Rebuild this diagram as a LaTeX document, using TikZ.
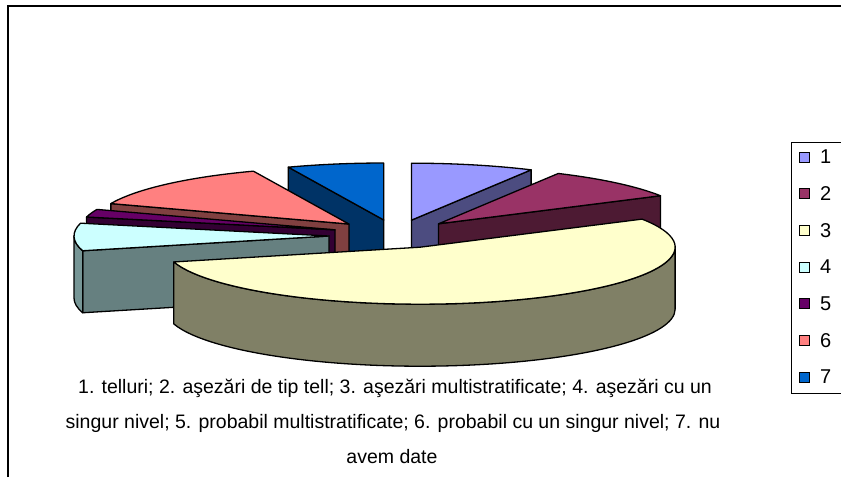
\documentclass[tikz,border=0pt]{standalone}
\usepackage{fontspec}
\setmainfont{Liberation Sans}
\usetikzlibrary{calc}
\definecolor{t1}{HTML}{9999FF}\definecolor{s1}{HTML}{4C4C80}
\definecolor{t2}{HTML}{993366}\definecolor{s2}{HTML}{4D1A33}
\definecolor{t3}{HTML}{FFFFCC}\definecolor{s3}{HTML}{808066}
\definecolor{t4}{HTML}{CCFFFF}\definecolor{s4}{HTML}{668080}\definecolor{c4}{HTML}{779696}
\definecolor{t5}{HTML}{660066}\definecolor{s5}{HTML}{330033}
\definecolor{t6}{HTML}{FF8080}\definecolor{s6}{HTML}{804040}
\definecolor{t7}{HTML}{0066CC}\definecolor{s7}{HTML}{003366}
\newcommand\topface[4]{\filldraw[edge,fill=#4] (#1) -- ($(#1)+(#2:255 and 57)$) arc[start angle=#2,end angle=#3,x radius=255,y radius=57] -- cycle;}
\newcommand\radface[3]{\filldraw[edge,fill=#3] (#1) -- ($(#1)+(#2:255 and 57)$) -- ++(0,-62) -- ($(#1)+(0,-62)$) -- cycle;}
\newcommand\curvface[4]{\filldraw[edge,fill=#4] ($(#1)+(#2:255 and 57)$) arc[start angle=#2,end angle=#3,x radius=255,y radius=57] -- ++(0,-62) arc[start angle=#3,end angle=#2,x radius=255,y radius=57] -- cycle;}
\begin{document}
\begin{tikzpicture}[x=1pt,y=1pt,
  edge/.style={draw=black,line width=1.3pt,line join=round},
  captext/.style={font=\fontsize{19.5}{22}\selectfont,anchor=base,inner sep=0pt},
  legtext/.style={font=\fontsize{20}{22}\selectfont,anchor=west,inner sep=0pt},
  legsq/.style={draw=black,line width=1pt,minimum size=10pt,inner sep=0pt}]
\useasboundingbox (0,0) rectangle (841,-477);
\coordinate (O) at (396,-234);
\coordinate (C1) at ($(O)+(76:63.75 and 14.25)$);
\coordinate (C2) at ($(O)+(45.75:61 and 14.25)$);
\coordinate (C3) at ($(O)+(-67.75:63.75 and 14.25)$);
\coordinate (C4) at (329,-236);
\coordinate (C5) at ($(O)+(163:63.75 and 14.25)$);
\coordinate (C6) at ($(O)+(135.5:66 and 14.25)$);
\coordinate (C7) at ($(O)+(101:63.75 and 14.25)$);
% slice 7
\radface{C7}{112}{s7}
\topface{C7}{112}{90}{t7}
% slice 1
\radface{C1}{62}{s1}
\topface{C1}{90}{62}{t1}
% slice 6
\radface{C6}{159}{s6}
\topface{C6}{159}{112}{t6}
% slice 2
\radface{C2}{29.5}{s2}
\topface{C2}{62}{29.5}{t2}
% slice 5
\radface{C5}{167}{s5}
\topface{C5}{167}{159}{t5}
% slice 4
\radface{C4}{195}{s4}
\curvface{C4}{180}{195}{c4}
\topface{C4}{195}{167}{t4}
% slice 3
\curvface{C3}{0}{-165}{s3}
\topface{C3}{29.5}{-165}{t3}
% frame
\draw[line width=2pt] (8,-477) -- (8,-6) -- (841,-6);
% legend
\draw[line width=1pt] (841,-142) -- (791,-142) -- (791,-393) -- (841,-393);
\foreach \i/\c in {1/t1,2/t2,3/t3,4/t4,5/t5,6/t6,7/t7}{
  \node[legsq,fill=\c] (sq\i) at (804,{-157-36.67*(\i-1)}) {};
  \node[legtext] (lt\i) at (820,{-157-36.67*(\i-1)}) {\i};
}
% caption
\node[captext] (l1) at (395,-393) {1. telluri; 2. aşezări de tip tell; 3. aşezări multistratificate; 4. aşezări cu un};
\node[captext] (l2) at (393,-428) {singur nivel; 5. probabil multistratificate; 6. probabil cu un singur nivel; 7. nu};
\node[captext] (l3) at (392,-463) {avem date};
\end{tikzpicture}
\end{document}
